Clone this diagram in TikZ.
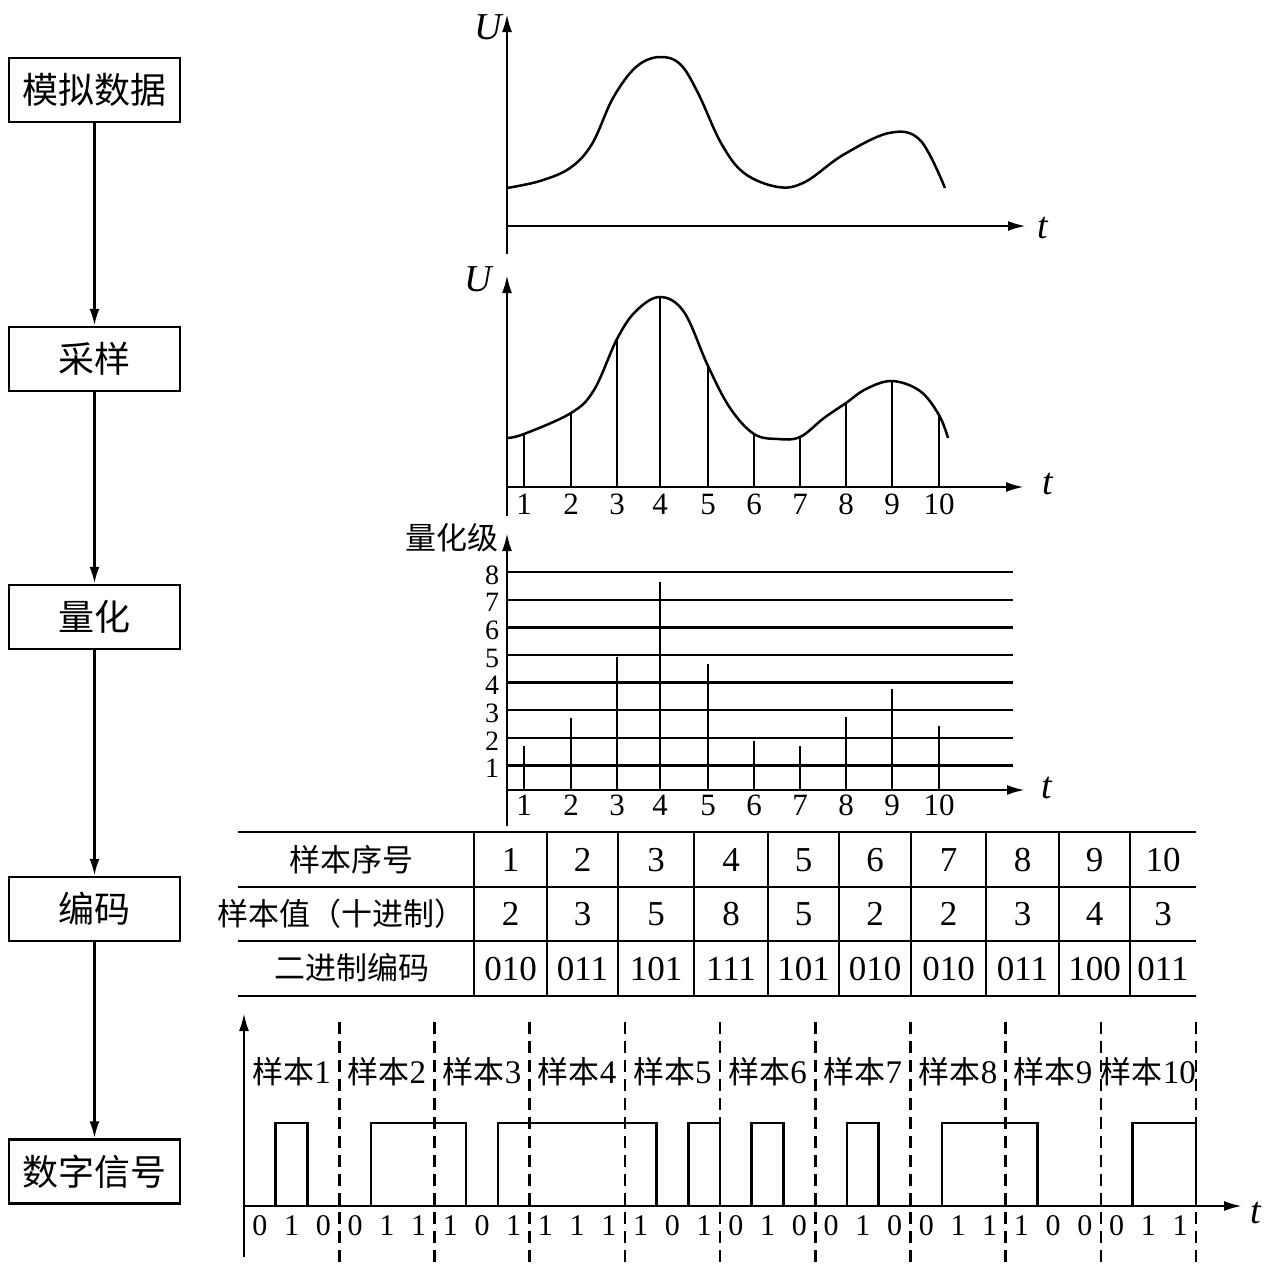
\documentclass[tikz,border=0pt]{standalone}
\usepackage{fontspec}
\setmainfont{Liberation Serif}
\newfontfamily\cjk{Noto Sans CJK SC}
\usetikzlibrary{arrows.meta}

\begin{document}
\begin{tikzpicture}[x=1pt,y=-1pt,line width=2.5pt,line join=miter,
  box/.style={draw,minimum width=171pt,minimum height=64pt,inner sep=0pt,font=\cjk\fontsize{36}{36}\selectfont},
  flow/.style={-{Latex[length=17pt,width=10pt]}},
  axis/.style={-{Latex[length=18pt,width=10pt]}},
  num/.style={inner sep=0pt,font=\fontsize{31}{31}\selectfont},
  cn/.style={inner sep=0pt,font=\fontsize{31}{31}\selectfont},
  var/.style={inner sep=0pt,font=\itshape\fontsize{38}{38}\selectfont},
  grid/.style={line width=2.1pt},
  split/.style={line width=2.6pt,dash pattern=on 12pt off 7pt}]

\useasboundingbox (0,0) rectangle (1269,1280);

% left column
\node[box] (analog) at (94.5,90) {模拟数据};
\node[box] (sampling) at (94.5,359) {采样};
\node[box] (quant) at (94.5,617) {量化};
\node[box] (coding) at (94.5,909) {编码};
\node[box] (digital) at (94.5,1171.5) {数字信号};

\draw[flow] (analog) -- (sampling);
\draw[flow] (sampling) -- (quant);
\draw[flow] (quant) -- (coding);
\draw[flow] (coding) -- (digital);

% analog curve
\draw[axis] (507,254) -- (507,14);
\draw[axis] (507,226) -- (1026,226);
\node[var] (U1) at (488,27) {U};
\node[var] (t1) at (1043,228) {t};
\draw plot[smooth,tension=0.6] coordinates {(507,188) (540,181) (570,168) (592,144) (613,98) (636,67) (659,57) (680,64) (698,93) (721,143) (744,173) (778,187) (805,182) (843,155) (889,133) (920,140) (945,188)};

% sampling
\draw[axis] (507,516) -- (507,275);
\draw[axis] (507,487) -- (1024,487);
\node[var] (U2) at (478,279) {U};
\node[var] (t2) at (1048,484) {t};
\draw plot[smooth,tension=0.6] coordinates {(507,438) (524,434) (571,413) (594,390) (617,339) (636,311) (660,297) (684,312) (708,366) (730,408) (754,434) (778,439) (800,437) (824,418) (846,403) (866,389) (892,381) (920,391) (939,415) (948,438)};
\foreach \x/\h [count=\i] in {524/434,571/413,617/339,660/297,708/366,754/434,800/437,846/403,892/381,939/415}{
  \draw[grid] (\x,487) -- (\x,\h);
  \node[num] (s\i) at (\x,504) {\i};
}

% quantization
\draw[axis] (507,826) -- (507,533);
\draw[axis] (507,790) -- (1025,790);
\node[cn] (level) at (452,538) {\cjk 量化级};
\node[var] (t3) at (1047,788) {t};
\foreach \k in {1,...,8}{
  \draw (507,{793-27.6*\k}) -- (1013,{793-27.6*\k});
  \node[num,font=\fontsize{28}{28}\selectfont] (l\k) at (492,{796-27.6*\k}) {\k};
}
\foreach \x/\h [count=\i] in {524/746,571/718,617/657,660/582,708/664,754/741,800/746,846/717,892/689,939/726}{
  \draw[grid] (\x,790) -- (\x,\h);
  \node[num] (q\i) at (\x,805) {\i};
}

% coding table
\draw (238,832) -- (1196,832);
\draw (238,887) -- (1196,887);
\draw (238,941) -- (1196,941);
\draw (238,996) -- (1196,996);
\foreach \x in {474,547,618,694,768,839,911,986,1059,1130}
  \draw[grid] (\x,832) -- (\x,996);
\node[cn] (rowA) at (351,860) {\cjk 样本序号};
\node[cn] (rowB) at (341,914) {\cjk 样本值（十进制）};
\node[cn] (rowC) at (352,968) {\cjk 二进制编码};
\foreach \x/\d/\c [count=\i] in {510.5/2/010,582.5/3/011,656/5/101,731/8/111,803.5/5/101,875/2/010,948.5/2/010,1022.5/3/011,1094.5/4/100,1163/3/011}{
  \node[num,font=\fontsize{35}{35}\selectfont] (n\i) at (\x,860) {\i};
  \node[num,font=\fontsize{35}{35}\selectfont] (d\i) at (\x,914) {\d};
  \node[num,font=\fontsize{35}{35}\selectfont] (c\i) at (\x,969) {\c};
}

% digital signal
\draw[axis] (244,1257) -- (244,1013);
\draw[axis] (244,1206) -- (1242,1206);
\node[var] (t4) at (1256,1213) {t};
\foreach \k in {1,...,10}{
  \draw[split] ({244+95.2*\k},1022) -- ({244+95.2*\k},1268);
  \node[cn] (smp\k) at ({244+95.2*\k-47.6},1072) {{\cjk 样本}\fontsize{33}{33}\selectfont\k};
}
\foreach \a/\b in {1/2,4/7,8/13,14/15,16/17,19/20,22/25,28/30}
  \draw ({244+31.733*\a},1206) |- ({244+31.733*\b},1123) -- ({244+31.733*\b},1206);
\foreach \b [count=\i from 0] in {0,1,0,0,1,1,1,0,1,1,1,1,1,0,1,0,1,0,0,1,0,0,1,1,1,0,0,0,1,1}
  \node[num,font=\fontsize{30}{30}\selectfont] (b\i) at ({244+31.733*\i+15.87},1226) {\b};

\end{tikzpicture}
\end{document}
